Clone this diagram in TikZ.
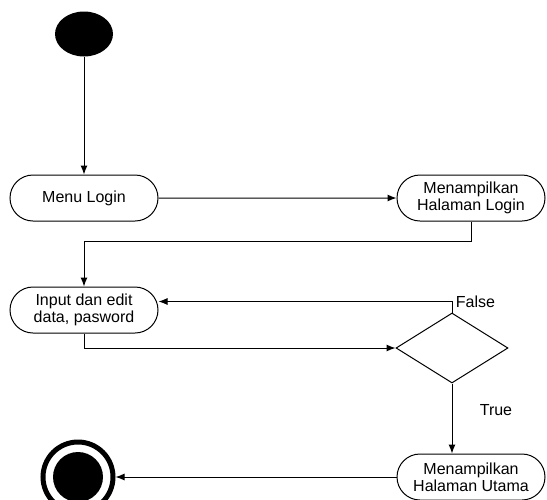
\documentclass[tikz,border=0pt]{standalone}
\usepackage{fontspec}
\setmainfont{Liberation Sans}
\usetikzlibrary{positioning,calc,arrows.meta}
\usetikzlibrary{shapes.geometric,shapes.misc}

\begin{document}
\begin{tikzpicture}[x=1pt, y=-1pt, line width=1pt,
    act/.style={draw, rounded rectangle, minimum width=152pt, minimum height=46pt,
      inner sep=2pt, align=center, font=\fontsize{16}{17}\selectfont},
    lbl/.style={font=\fontsize{16}{17}\selectfont},
    flow/.style={-{Latex[length=9pt,width=7pt]}}]
    \useasboundingbox (0,0) rectangle (547,499);
    % start and end
    \node[ellipse, fill=black, minimum width=58pt, minimum height=45pt, inner sep=0pt] (start) at (84,34) {};
    \node[circle, draw, line width=5pt, fill=white, minimum size=70pt, inner sep=0pt] (finish) at (78,477) {};
    \node[circle, fill=black, minimum size=50pt, inner sep=0pt] (finishdot) at (finish) {};
    % activities
    \node[act] (login) at (84,198) {Menu Login};
    \node[act] (showlogin) at (471,198) {Menampilkan\\Halaman Login};
    \node[act] (input) at (84,310) {Input dan edit\\data, pasword};
    \node[draw, diamond, minimum width=112pt, minimum height=70pt, inner sep=0pt] (cek) at (452,348) {};
    \node[act] (showhome) at (471,477) {Menampilkan\\Halaman Utama};
    % flows
    \draw[flow] (start) -- (login);
    \draw[flow] (login) -- (showlogin);
    \draw[flow] (showlogin.south) -- ++(0,20) -| (input.north);
    \draw[flow] (input.south) |- (cek.west);
    \coordinate (back) at ($(cek.north)+(0,-11)$);
    \draw[flow] (cek.north) -- (back) node[lbl, right] {False} -- (back -| input.east);
    \draw[flow] (cek.south) -- (cek.south |- showhome.north) node[lbl, pos=0.38, right=24pt] {True};
    \draw[flow] (showhome) -- (finish);
\end{tikzpicture}
\end{document}
